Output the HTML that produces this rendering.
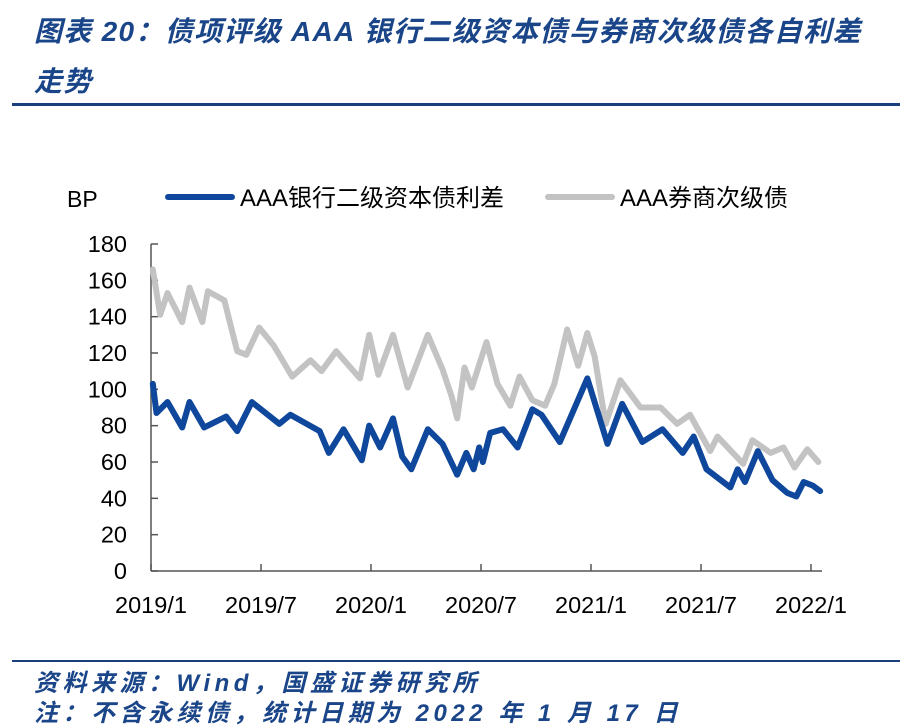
<!DOCTYPE html>
<html><head><meta charset="utf-8"><style>
body{margin:0;width:914px;height:728px;background:#fff;overflow:hidden;position:relative;font-family:"Liberation Sans","Noto Sans CJK SC",sans-serif}
.t{position:absolute;color:#1a4588;font-style:italic;font-weight:bold;font-size:28px;letter-spacing:1.3px;white-space:nowrap;font-family:"Liberation Sans","Noto Sans CJK SC",sans-serif}
.f{position:absolute;color:#1a4588;font-style:italic;font-weight:bold;font-size:24px;letter-spacing:4.5px;white-space:nowrap}
</style></head><body>
<div class="t" style="left:34px;top:10px">图表 20：债项评级 AAA 银行二级资本债与券商次级债各自利差</div>
<div class="t" style="left:34px;top:60px">走势</div>
<div style="position:absolute;left:12px;top:103px;width:888px;height:3px;background:#1a3f7a"></div>
<svg id="chart" width="914" height="728" style="position:absolute;left:0;top:0"></svg>
<div style="position:absolute;left:12px;top:660px;width:888px;height:2px;background:#1a3f7a"></div>
<div class="f" style="left:34px;top:663px">资料来源：Wind，国盛证券研究所</div>
<div class="f" style="left:34px;top:693px">注：不含永续债，统计日期为 2022 年 1 月 17 日</div>
<script>
const yTicks=[0,20,40,60,80,100,120,140,160,180];
const xTickLabels=["2019/1","2019/7","2020/1","2020/7","2021/1","2021/7","2022/1"];
const xTickMonths=[0,6,12,18,24,30,36];
const bankMonths=[0.1,0.3,0.9,1.7,2.1,2.9,4.1,4.7,5.5,7.0,7.6,9.2,9.7,10.5,11.5,11.9,12.5,13.2,13.7,14.2,15.1,15.9,16.7,17.2,17.6,17.9,18.1,18.5,19.2,20.0,20.8,21.3,22.3,23.8,24.9,25.7,26.8,27.9,29.0,29.6,30.3,31.6,32.0,32.4,33.1,33.9,34.7,35.2,35.6,36.1,36.5];
const bankValues=[103,87,93,79,93,79,85,77,93,81,86,77,65,78,61,80,68,84,63,56,78,70,53,65,56,68,60,76,78,68,89,86,71,106,70,92,71,78,65,74,56,46,56,49,66,50,43,41,49,47,44];
const brokerMonths=[0.1,0.5,0.9,1.7,2.1,2.8,3.1,4.0,4.7,5.2,5.9,6.7,7.7,8.7,9.3,10.1,11.4,11.9,12.4,13.2,14.0,15.1,15.9,16.4,16.7,17.1,17.5,18.3,18.9,19.6,20.1,20.8,21.5,22.0,22.7,23.3,23.8,24.2,24.8,25.6,26.7,27.8,28.7,29.4,30.5,30.9,32.3,32.8,33.8,34.5,35.1,35.8,36.4];
const brokerValues=[166,141,153,137,156,137,154,149,121,119,134,124,107,116,110,121,106,130,108,130,101,130,111,96,84,112,101,126,103,91,107,94,91,103,133,113,131,118,81,105,90,90,81,86,66,74,59,72,65,68,57,67,60];
const svg=document.getElementById('chart');const NS='http://www.w3.org/2000/svg';
const X0=151,PXM=110/6,Y0=571,PXV=327/180;
const xs=m=>X0+m*PXM, ys=v=>Y0-v*PXV;
function mk(tag,attrs,name){const e=document.createElementNS(NS,tag);for(const k in attrs)e.setAttribute(k,attrs[k]);


svg.appendChild(e);return e;}
mk('line',{x1:X0,y1:ys(180),x2:X0,y2:Y0,stroke:'#555','stroke-width':1.5},'y-axis');
mk('line',{x1:X0,y1:Y0,x2:822,y2:Y0,stroke:'#555','stroke-width':1.5},'x-axis');
yTicks.forEach(v=>{mk('line',{x1:X0,y1:ys(v),x2:X0+7,y2:ys(v),stroke:'#555','stroke-width':1.5},'y-tick');
const t=mk('text',{x:127,y:ys(v)+8,'text-anchor':'end','font-size':23.5,fill:'#000','font-family':'Liberation Sans'},'y-tick-label');t.textContent=v;});
xTickMonths.forEach((m,i)=>{mk('line',{x1:xs(m),y1:Y0,x2:xs(m),y2:Y0-7,stroke:'#555','stroke-width':1.5},'x-tick');
const t=mk('text',{x:xs(m),y:613,'text-anchor':'middle','font-size':23.5,fill:'#000','font-family':'Liberation Sans'},'x-tick-label');t.textContent=xTickLabels[i];});
function series(ms,vs,col,name){mk('polyline',{points:ms.map((m,i)=>xs(m)+','+ys(vs[i])).join(' '),fill:'none',stroke:col,'stroke-width':6,'stroke-linejoin':'round','stroke-linecap':'round'},name);}
series(brokerMonths,brokerValues,'#c3c3c3','broker-subordinated-line');
series(bankMonths,bankValues,'#0e479b','bank-tier2-line');
let t=mk('text',{x:67,y:207,'font-size':23,fill:'#000','font-family':'Liberation Sans'},'y-axis-unit');t.textContent='BP';
mk('line',{x1:168,y1:197,x2:232,y2:197,stroke:'#0e479b','stroke-width':6,'stroke-linecap':'round'},'legend-swatch-bank');
t=mk('text',{x:240,y:206,'font-size':24,fill:'#000','font-family':'Liberation Sans, Noto Sans CJK SC, sans-serif'},'legend-label-bank');t.textContent='AAA银行二级资本债利差';
mk('line',{x1:548,y1:197,x2:612,y2:197,stroke:'#c3c3c3','stroke-width':6,'stroke-linecap':'round'},'legend-swatch-broker');
t=mk('text',{x:620,y:206,'font-size':24,fill:'#000','font-family':'Liberation Sans, Noto Sans CJK SC, sans-serif'},'legend-label-broker');t.textContent='AAA券商次级债';
</script>
</body></html>
